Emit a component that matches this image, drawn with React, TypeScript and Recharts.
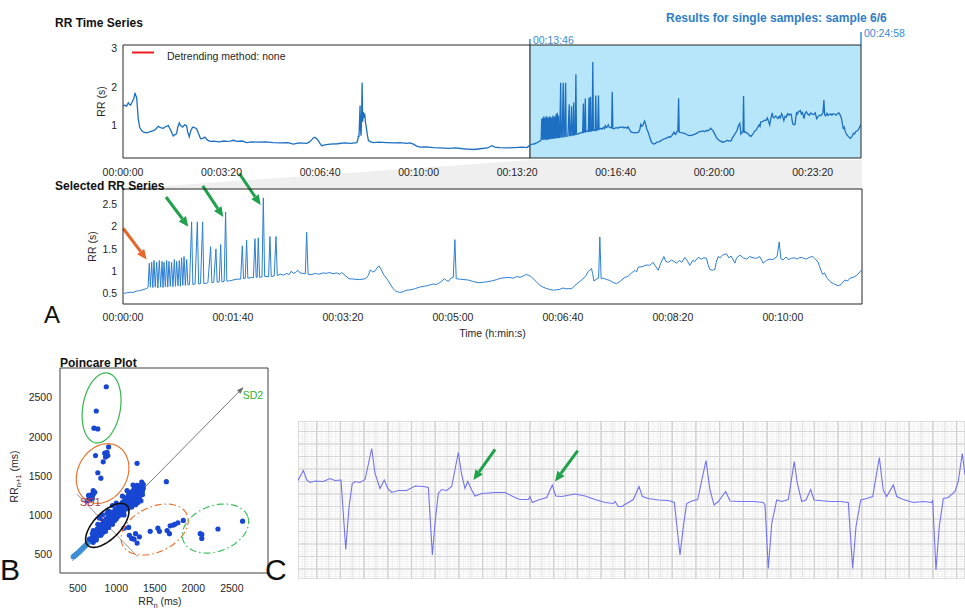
import React from 'react';
import {
  LineChart,
  Line,
  ScatterChart,
  Scatter,
  XAxis,
  YAxis,
  CartesianGrid,
  ReferenceArea,
  ReferenceLine,
  ReferenceDot,
  Legend,
  Label,
} from 'recharts';

type Pt = [number, number];

const FONT = '"Liberation Sans", Arial, Helvetica, sans-serif';
const INK = '#262626';
const TICK = { fontSize: 10.5, fill: INK, fontFamily: FONT };
const GREEN_ARROW = '#1fa24b';
const ORANGE_ARROW = '#e8652c';

// ---------------- RR tachogram ----------------
const selectionStart = 826; // 00:13:46
const recordEnd = 1498; // 00:24:58
const selectionLength = recordEnd - selectionStart;

// RR intervals before the analysed window: [time (s), RR (s)]
const rrEarly: Pt[] = [
  [0, 1.52], [4, 1.53], [7, 1.5], [10.8, 1.59], [13, 1.55], [15.5, 1.53], [19, 1.62], [22, 1.7],
  [24.4, 1.85], [26, 1.78], [27.7, 1.73], [29, 1.5], [31, 1.17], [34, 0.95], [37.8, 0.87], [42, 0.83],
  [48, 0.81], [54, 0.84], [61.5, 0.87], [66, 0.9], [71.6, 0.98], [76, 0.95], [81.8, 0.93], [86, 0.97],
  [92, 1.0], [96, 0.9], [102, 0.73], [105, 0.76], [108.8, 0.79], [111, 0.95], [114.2, 1.07], [117, 1.0],
  [121, 0.96], [125, 1.02], [129, 1.0], [131, 0.85], [134.5, 0.71], [137, 0.85], [141.2, 0.96], [145, 0.95],
  [149.4, 0.92], [153, 0.8], [157.5, 0.66], [162, 0.67], [166.3, 0.7], [171, 0.63], [176.4, 0.59], [185, 0.6],
  [195, 0.58], [205, 0.6], [210.3, 0.59], [218, 0.6], [223.8, 0.62], [232, 0.59], [242, 0.6], [250.9, 0.56],
  [262, 0.58], [275, 0.57], [290, 0.58], [305, 0.56], [320, 0.55], [335, 0.56], [345.7, 0.52], [358, 0.55],
  [372.8, 0.54], [378, 0.57], [383, 0.63], [386, 0.68], [389.7, 0.7], [393, 0.66], [396.5, 0.61], [400, 0.53],
  [403.3, 0.48], [410, 0.5], [420.2, 0.52], [435, 0.53], [450, 0.55], [462, 0.54], [474.4, 0.56], [476.5, 0.62],
  [477.8, 0.74], [479, 0.7], [481.2, 1.52], [482.2, 0.9], [483.2, 0.74], [484.3, 1.2], [485.3, 2.12], [486.5, 1.1],
  [488, 1.35], [489.5, 1.2], [490.7, 1.31], [492, 1.1], [493.4, 1.0], [495.5, 0.8], [498.1, 0.61], [503, 0.58],
  [508.3, 0.56], [520, 0.57], [535, 0.56], [550, 0.55], [562, 0.56], [576, 0.54], [582, 0.55], [589.6, 0.52],
  [596, 0.47], [603.1, 0.44], [615, 0.45], [630, 0.43], [643.7, 0.42], [660, 0.41], [675, 0.42], [690, 0.4],
  [700, 0.39], [711.4, 0.38], [725, 0.4], [740, 0.42], [748.6, 0.48], [755, 0.44], [765, 0.43], [779, 0.42],
  [795, 0.43], [810, 0.44], [820, 0.43],
];

// RR intervals of the selected window: [time from window start (s), RR (s)]
const rrSelected: Pt[] = [
  [0.9, 0.5], [3, 0.51], [6.4, 0.525], [9, 0.52], [12.4, 0.55], [15, 0.56], [18, 0.58], [21.5, 0.61], [22.8, 0.63],
  [23.9, 1.18], [24.9, 0.64], [26.1, 1.2], [27.1, 0.63], [28.2, 1.24], [29.3, 0.64], [30.6, 1.2], [31.7, 0.62],
  [33.0, 1.24], [34.2, 0.64], [35.5, 1.22], [36.4, 0.63], [37.3, 1.2], [38.5, 0.65], [39.7, 1.24], [40.7, 0.64],
  [41.8, 1.22], [43, 0.66], [44.2, 1.2], [45.4, 0.65], [46.7, 1.26], [47.7, 0.66], [48.8, 1.22], [50, 0.67],
  [51.2, 1.24], [52.2, 0.66], [53.3, 1.3], [54.4, 0.68], [55.5, 1.33], [56.7, 0.68], [57.9, 1.26], [59, 0.69],
  [60.5, 0.7], [62.4, 2.11], [63.5, 0.7], [65.5, 0.71], [67.6, 2.11], [68.8, 0.71], [70.5, 0.72], [72.4, 2.11],
  [73.5, 0.72], [76, 0.73], [77.2, 0.74], [79.7, 1.55], [80.8, 0.74], [82.5, 0.75], [84.5, 1.5], [85.6, 0.75],
  [87.5, 0.76], [88.8, 1.6], [89.9, 0.76], [92, 0.77], [93.3, 2.33], [94.4, 0.78], [97, 0.78], [100, 0.8],
  [104, 0.82], [107, 0.82], [108.5, 1.57], [109.6, 0.83], [111.2, 0.84], [112.4, 1.7], [113.5, 0.84], [117, 0.86],
  [118.6, 0.85], [120, 1.73], [121.1, 0.86], [122, 0.86], [123, 1.75], [124.2, 0.86], [126.4, 0.87], [127.6, 2.65],
  [128.8, 0.88], [131, 0.88], [132.4, 0.87], [133.6, 1.78], [134.8, 0.88], [137.5, 0.89], [139.1, 1.78], [140.3, 0.9],
  [143, 0.93], [146, 0.91], [149, 0.95], [151, 0.92], [153, 1.0], [155, 0.95], [157, 0.97], [159, 1.02],
  [161, 0.96], [163.6, 0.95], [165.8, 0.94], [167, 1.88], [168.3, 0.93], [171, 0.92], [175, 0.95], [178, 0.93],
  [182, 0.96], [185, 0.95], [188, 0.97], [191, 0.94], [194, 0.96], [197, 0.93], [199, 0.97], [202, 0.9],
  [205.5, 0.83], [210, 0.82], [215, 0.81], [220.6, 0.83], [223, 0.9], [225, 1.03], [227, 0.98], [229, 1.0],
  [231, 1.07], [232.8, 1.12], [234.5, 1.05], [237, 0.92], [240.8, 0.8], [245.4, 0.61], [248, 0.55], [251.5, 0.52],
  [254, 0.53], [257.6, 0.57], [262, 0.58], [266, 0.61], [269.7, 0.64], [274, 0.66], [278, 0.68], [281.8, 0.71],
  [285, 0.7], [288, 0.74], [290, 0.78], [292.4, 0.83], [294, 0.79], [296, 0.77], [298, 0.84], [300.3, 0.86],
  [301.8, 1.71], [303, 0.83], [306, 0.82], [310, 0.81], [313.9, 0.8], [318, 0.77], [323, 0.74], [328, 0.75],
  [331, 0.76], [335.2, 0.78], [340, 0.81], [343, 0.84], [347.3, 0.85], [351, 0.86], [354.8, 0.84], [358, 0.88],
  [361, 0.86], [364, 0.89], [366.9, 0.93], [369, 0.9], [371, 0.88], [373, 0.83], [376, 0.76], [379, 0.68],
  [382, 0.64], [385, 0.61], [388, 0.59], [391.2, 0.57], [394, 0.58], [397, 0.59], [400.3, 0.62], [403, 0.6],
  [405, 0.61], [407.9, 0.6], [411, 0.68], [415.5, 0.77], [418, 0.82], [421, 0.9], [423, 0.99], [426, 1.06],
  [427, 0.95], [428.2, 0.78], [431.2, 0.83], [432.5, 0.84], [433.6, 1.77], [434.8, 0.83], [437, 0.84], [440, 0.81],
  [442.7, 0.79], [446, 0.74], [448.8, 0.72], [452, 0.77], [456.4, 0.86], [459, 0.88], [462, 0.95], [465.4, 1.02],
  [467, 0.98], [468.5, 1.09], [472, 1.1], [476, 1.14], [479, 1.13], [482.1, 1.2], [484, 1.12], [486.7, 1.02],
  [489, 1.18], [491.8, 1.33], [493.5, 1.22], [495.8, 1.2], [499, 1.25], [503.3, 1.18], [506, 1.24], [508, 1.2],
  [510.9, 1.31], [513, 1.24], [515.4, 1.13], [518, 1.24], [520, 1.22], [523, 1.31], [526, 1.27], [528, 1.3],
  [530.6, 1.29], [532, 1.15], [533.6, 1.04], [536, 1.02], [538.2, 1.04], [539.5, 1.2], [541.2, 1.33], [543, 1.3],
  [545, 1.36], [548.8, 1.39], [551, 1.3], [553, 1.34], [556.4, 1.18], [558, 1.3], [561, 1.36], [564, 1.3],
  [567, 1.27], [570, 1.33], [573, 1.3], [576.1, 1.29], [579, 1.33], [582.1, 1.18], [585, 1.24], [588.2, 1.27],
  [591, 1.26], [594.8, 1.33], [596.7, 1.66], [598.2, 1.28], [600.3, 1.25], [603, 1.32], [605, 1.26], [607.9, 1.29],
  [611, 1.3], [613, 1.27], [615.5, 1.31], [618, 1.3], [621.5, 1.27], [624, 1.31], [627, 1.33], [629, 1.29],
  [632.1, 1.2], [633.5, 1.1], [636, 0.93], [638, 0.96], [640, 0.85], [642.7, 0.77], [646, 0.72], [650.3, 0.67],
  [653, 0.7], [656.4, 0.8], [659, 0.78], [661, 0.84], [664, 0.86], [667, 0.9], [671.5, 1.02],
];

const overviewTicks = [0, 200, 400, 600, 800, 1000, 1200, 1400];
const overviewRRTicks = [1, 2, 3];
const detailTicks = [0, 100, 200, 300, 400, 500, 600];
const detailRRTicks = [0.5, 1, 1.5, 2, 2.5];

const overviewData = [
  ...rrEarly,
  ...rrSelected.map(([t, rr]): Pt => [t + selectionStart, rr]),
].map(([t, rr]) => ({ t, rr }));
const detailData = rrSelected.map(([t, rr]) => ({ t, rr }));

const selectionMarkers = [
  { t: selectionStart, label: '00:13:46', rise: 6 },
  { t: recordEnd, label: '00:24:58', rise: 13 },
];

// Arrows on the detail plot: tail and tip in (time s, RR s)
const detailArrows = [
  { from: [0.3, 1.96], to: [21.5, 1.26], color: ORANGE_ARROW },
  { from: [39.1, 2.67], to: [59.4, 2.0], color: GREEN_ARROW },
  { from: [72.5, 2.92], to: [91.2, 2.22], color: GREEN_ARROW },
  { from: [105.7, 3.2], to: [125.2, 2.49], color: GREEN_ARROW },
];

// ---------------- Poincare plot ----------------
const poincareTicks = [500, 1000, 1500, 2000, 2500];

const poincareCore: Pt[] = [
  [440, 465], [450, 470], [455, 480], [462, 478], [470, 488], [478, 492], [485, 500], [492, 505], [500, 512],
  [508, 518], [515, 525], [522, 532], [530, 540], [538, 548], [545, 555], [552, 560], [560, 568], [568, 578],
  [577, 585], [585, 595], [594, 602], [602, 612], [612, 620], [620, 632], [630, 640], [640, 652], [650, 662],
];

const poincareCluster: Pt[] = [
  [650, 690], [680, 700], [690, 670], [700, 720], [710, 740], [720, 700], [730, 760], [740, 750], [750, 780],
  [760, 740], [770, 800], [780, 790], [790, 820], [800, 810], [810, 840], [820, 800], [830, 860], [840, 850],
  [850, 880], [860, 860], [870, 900], [880, 880], [890, 920], [900, 900], [910, 940], [920, 930], [930, 960],
  [940, 950], [950, 980], [960, 970], [970, 1000], [980, 990], [990, 1020], [1000, 1010], [1010, 1040],
  [1020, 1030], [1030, 1060], [1040, 1050], [1050, 1080], [1060, 1070], [1070, 1100], [1080, 1090],
  [1090, 1120], [1100, 1110], [1110, 1140], [1120, 1160], [1130, 1150], [1140, 1180], [1150, 1170],
  [1160, 1200], [1170, 1190], [1180, 1220], [1190, 1210], [1200, 1240], [1210, 1230], [1220, 1260],
  [1230, 1250], [1240, 1280], [1250, 1270], [1260, 1300], [1270, 1290], [1280, 1320], [1290, 1310],
  [1300, 1340], [1310, 1360], [1320, 1300], [1330, 1380], [1270, 1380], [1250, 1350], [1230, 1330],
  [1210, 1300], [1190, 1290], [1170, 1260], [1150, 1240], [1130, 1210], [1160, 1250], [1300, 1200],
  [1320, 1180], [1280, 1160], [1260, 1150], [1240, 1140], [1220, 1180], [1200, 1160], [1180, 1130],
  [1290, 1240], [1310, 1250], [1330, 1290], [1350, 1340], [1340, 1260], [1300, 1290], [1270, 1220],
  [1250, 1200], [1230, 1200], [1210, 1180], [780, 960], [820, 1000], [760, 880], [700, 800], [900, 1050],
  [950, 1120], [1000, 1150], [880, 1020], [1050, 1000], [1000, 950], [950, 880], [900, 840], [860, 790],
  [800, 740], [740, 680], [1100, 1000], [1150, 1080], [1200, 1100], [1250, 1130], [1280, 1250],
  [1080, 1240], [1140, 1310], [1218, 1383],
  [690, 760], [720, 780], [750, 820], [780, 850], [810, 880], [840, 920], [870, 950], [900, 980], [930, 1010],
  [960, 1040], [990, 1070], [1020, 1100], [1050, 1130], [1080, 1160], [1110, 1190], [700, 650], [740, 700],
  [780, 740], [820, 770], [860, 820], [900, 860], [940, 900], [980, 930], [1020, 980], [1060, 1010],
  [1100, 1050], [1140, 1100], [1180, 1160], [1220, 1220], [1260, 1240], [1300, 1260], [1320, 1340],
  [1350, 1390], [1330, 1420], [1290, 1370], [1240, 1300], [1190, 1260], [1150, 1200], [1110, 1160],
  [1340, 1310],
];

const poincareEctopic: Pt[] = [
  [870, 2640], [740, 2330], [710, 2110], [760, 2100],
  [900, 1870], [730, 1760], [850, 1790], [880, 1800], [890, 1760], [860, 1740], [830, 1680], [760, 1540],
  [800, 1470], [700, 1310], [720, 1290], [680, 1260], [650, 1220], [690, 1210], [660, 1190], [620, 1180],
  [700, 1260], [640, 1250], [1270, 1660], [1650, 1425],
  [1100, 830], [1160, 840], [1170, 740], [1200, 700], [1230, 690], [1270, 640], [1300, 720], [1250, 760],
  [1440, 790], [1540, 830], [1560, 790], [1660, 800], [1700, 860], [1740, 870], [1760, 880], [1800, 900],
  [1870, 930], [1690, 760],
  [2090, 760], [2110, 750], [2110, 700], [2320, 820], [2640, 920],
];

// Group outlines: centre, semi-axes (ms) and tilt (deg)
const poincareEllipses = [
  { cx: 883, cy: 866, a: 360, b: 170, angle: 45, color: '#111111', width: 1.6, dash: undefined },
  { cx: 822, cy: 1530, a: 400, b: 320, angle: 60, color: '#e8742f', width: 1.2, dash: undefined },
  { cx: 809, cy: 2369, a: 453, b: 244, angle: 80, color: '#36b54f', width: 1.2, dash: undefined },
  { cx: 1498, cy: 813, a: 462, b: 288, angle: 25, color: '#e8742f', width: 1.2, dash: '7 3 1.5 3' },
  { cx: 2288, cy: 826, a: 446, b: 292, angle: 20, color: '#3cc05c', width: 1.2, dash: '7 3 1.5 3' },
];

const sdCentre: Pt = [883, 866];
const sd2Axis: Pt[] = [[430, 413], [2654, 2637]];
const sd1Axis: Pt[] = [[487, 1268], [1278, 465]];
const sdMinorStart: Pt = [620, 610];
const sd1End: Pt = [765, 985];
const sd2End: Pt = [1130, 1110];

// ---------------- ECG strip ----------------
const ecgRange = { t: [0.042, 5.671] as Pt, mv: [-1.95, 1.21] as Pt };

// [time (s), amplitude (mV)]
const ecgTrace: Pt[] = [
  [0.042, 0.02], [0.087, 0.22], [0.116, 0.03], [0.143, -0.02], [0.186, 0.01], [0.256, 0.0], [0.312, 0.06],
  [0.354, 0.02], [0.405, 0.03], [0.445, -1.36], [0.473, -0.5], [0.5, -0.04], [0.523, 0.0], [0.565, -0.02],
  [0.608, 0.04], [0.664, 0.66], [0.692, 0.16], [0.734, -0.14], [0.77, 0.03], [0.799, -0.14], [0.833, -0.22],
  [0.889, -0.18], [0.959, -0.18], [1.03, -0.09], [1.1, -0.1], [1.142, -0.12], [1.176, -1.47], [1.198, -0.84],
  [1.226, -0.24], [1.255, -0.16], [1.297, -0.18], [1.339, -0.1], [1.395, 0.58], [1.424, 0.13], [1.451, -0.14],
  [1.474, 0.0], [1.508, -0.17], [1.536, -0.29], [1.592, -0.24], [1.705, -0.22], [1.789, -0.22], [1.873, -0.32],
  [1.916, -0.36], [1.986, -0.36], [2.0, -0.3], [2.019, -0.42], [2.07, -0.37], [2.141, -0.32], [2.188, -0.07],
  [2.217, -0.29], [2.268, -0.3], [2.38, -0.25], [2.464, -0.29], [2.549, -0.36], [2.633, -0.42], [2.703, -0.44],
  [2.717, -0.4], [2.745, -0.5], [2.774, -0.5], [2.83, -0.42], [2.872, -0.36], [2.92, -0.1], [2.948, -0.3],
  [2.998, -0.34], [3.083, -0.37], [3.167, -0.38], [3.218, -0.42], [3.266, -1.47], [3.294, -0.9], [3.322, -0.44],
  [3.365, -0.39], [3.415, -0.36], [3.485, 0.42], [3.519, -0.17], [3.553, -0.47], [3.589, -0.4], [3.651, -0.2],
  [3.688, -0.39], [3.772, -0.4], [3.884, -0.4], [3.969, -0.42], [3.983, -0.47], [4.011, -1.74], [4.04, -0.84],
  [4.082, -0.37], [4.124, -0.4], [4.18, -0.36], [4.23, 0.4], [4.256, -0.04], [4.293, -0.4], [4.329, -0.37],
  [4.369, -0.16], [4.397, -0.37], [4.447, -0.38], [4.532, -0.4], [4.616, -0.4], [4.686, -0.42], [4.723, -1.74],
  [4.751, -0.9], [4.791, -0.37], [4.841, -0.34], [4.892, -0.3], [4.948, 0.48], [4.981, -0.17], [5.01, -0.3],
  [5.066, -0.07], [5.095, -0.3], [5.15, -0.36], [5.235, -0.42], [5.319, -0.4], [5.39, -0.42], [5.398, -0.37],
  [5.426, -1.77], [5.454, -0.9], [5.488, -0.34], [5.53, -0.32], [5.586, -0.2], [5.614, 0.0], [5.648, 0.56],
  [5.671, 0.13],
];

const ecgArrows = [
  { from: [1.705, 0.644], to: [1.522, 0.03] },
  { from: [2.403, 0.616], to: [2.211, 0.0] },
];

// ---------------- helpers ----------------
const hms = (s: number) => {
  const h = Math.floor(s / 3600);
  const m = Math.floor((s % 3600) / 60);
  const sec = Math.round(s % 60);
  return [h, m, sec].map((n) => String(n).padStart(2, '0')).join(':');
};

function steps(from: number, to: number, step: number): number[] {
  const out: number[] = [];
  for (let k = Math.ceil(from / step - 1e-9); k * step <= to + 1e-9; k++) out.push(+(k * step).toFixed(4));
  return out;
}

const toXY = (pts: Pt[]) => pts.map(([x, y]) => ({ x, y }));

function ellipsePoints(e: { cx: number; cy: number; a: number; b: number; angle: number }) {
  const rad = (e.angle * Math.PI) / 180;
  const ca = Math.cos(rad);
  const sa = Math.sin(rad);
  const pts: { x: number; y: number }[] = [];
  for (let i = 0; i <= 90; i++) {
    const th = (i / 90) * 2 * Math.PI;
    const u = e.a * Math.cos(th);
    const v = e.b * Math.sin(th);
    pts.push({ x: e.cx + u * ca - v * sa, y: e.cy + u * sa + v * ca });
  }
  return pts;
}

const arrowShape = (color: string, width: number, head: number, headWidth: number) => (p: any) => {
  const x1 = Number(p.x1), y1 = Number(p.y1), x2 = Number(p.x2), y2 = Number(p.y2);
  const ang = Math.atan2(y2 - y1, x2 - x1);
  const bx = x2 - head * Math.cos(ang);
  const by = y2 - head * Math.sin(ang);
  const nx = (-Math.sin(ang) * headWidth) / 2;
  const ny = (Math.cos(ang) * headWidth) / 2;
  return (
    <g>
      <line x1={x1} y1={y1} x2={bx} y2={by} stroke={color} strokeWidth={width} />
      <polygon points={`${x2},${y2} ${bx + nx},${by + ny} ${bx - nx},${by - ny}`} fill={color} />
    </g>
  );
};

const markerShape = (label: string, rise: number) => (p: any) => {
  const x = Number(p.x1);
  const top = Math.min(Number(p.y1), Number(p.y2));
  return (
    <g>
      <line x1={x} x2={x} y1={top - rise} y2={top} stroke="#2b86d3" strokeWidth={1.4} />
      <text x={x + 3} y={top - rise + 5} fontSize={10.5} fontFamily={FONT} fill="#3a8ad2">
        {label}
      </text>
    </g>
  );
};

const zoomBand = (frac: number, rise: number) => (p: any) => {
  const x = Number(p.x);
  const y = Number(p.y);
  const w = Number(p.width);
  return (
    <polygon
      points={`${x},${y} ${x + w},${y} ${x + w},${y - rise} ${x + w * frac},${y - rise}`}
      fill="#efefef"
    />
  );
};

const rotatedLabel = (text: string, inset: number) => (props: any) => {
  const vb = props.viewBox;
  const x = vb.x + vb.width - inset;
  const y = vb.y + vb.height / 2;
  return (
    <text x={x} y={y} transform={`rotate(-90 ${x} ${y})`} textAnchor="middle" fontSize={10.5} fontFamily={FONT} fill={INK}>
      {text}
    </text>
  );
};

const frameAxes = (
  id: string,
  xKey: string,
  yKey: string,
  xDomain: Pt,
  yDomain: Pt,
  xTicks: number[],
  yTicks: number[],
  len: number,
  stroke: string,
) => [
  <XAxis key={`${id}-top`} xAxisId={`${id}-top`} dataKey={xKey} orientation="top" mirror type="number" domain={xDomain}
    allowDataOverflow ticks={xTicks} interval={0} tick={false} tickSize={len} axisLine={{ stroke }} tickLine={{ stroke }} />,
  <XAxis key={`${id}-bin`} xAxisId={`${id}-bin`} dataKey={xKey} orientation="bottom" mirror type="number" domain={xDomain}
    allowDataOverflow ticks={xTicks} interval={0} tick={false} tickSize={len} axisLine={false} tickLine={{ stroke }} />,
  <YAxis key={`${id}-right`} yAxisId={`${id}-right`} dataKey={yKey} orientation="right" mirror type="number" domain={yDomain}
    allowDataOverflow ticks={yTicks} interval={0} tick={false} tickSize={len} axisLine={{ stroke }} tickLine={{ stroke }} />,
  <YAxis key={`${id}-lin`} yAxisId={`${id}-lin`} dataKey={yKey} orientation="left" mirror type="number" domain={yDomain}
    allowDataOverflow ticks={yTicks} interval={0} tick={false} tickSize={len} axisLine={false} tickLine={{ stroke }} />,
];

const dot = (fill: string, r: number) => (p: any) => <circle cx={p.cx} cy={p.cy} r={r} fill={fill} />;
const noDot = () => <g />;

// ---------------- panels ----------------
const overviewDomain: Pt = [0, recordEnd];
const overviewRR: Pt = [0.16, 3.09];
const detailDomain: Pt = [0, selectionLength];
const detailRR: Pt = [0.26, 2.85];
const poincareX: Pt = [269, 2970];
const poincareY: Pt = [257, 2880];

function OverviewChart() {
  return (
    <LineChart width={965} height={180} data={overviewData} margin={{ top: 45, right: 104, bottom: 0, left: 0 }}>
      <XAxis xAxisId="t" dataKey="t" type="number" domain={overviewDomain} allowDataOverflow ticks={overviewTicks}
        interval={0} tickFormatter={hms} height={22} tickSize={0} tickMargin={11} tickLine={false}
        axisLine={{ stroke: INK }} tick={TICK} />
      <YAxis yAxisId="rr" type="number" domain={overviewRR} allowDataOverflow ticks={overviewRRTicks} interval={0}
        width={123} tickSize={0} tickMargin={6} tickLine={false} axisLine={{ stroke: INK }} tick={TICK}>
        <Label content={rotatedLabel('RR (s)', 18)} />
      </YAxis>
      {frameAxes('ov', 't', 'rr', overviewDomain, overviewRR, overviewTicks, overviewRRTicks, 5, INK)}
      <ReferenceArea xAxisId="t" yAxisId="rr" x1={selectionStart} x2={recordEnd} fill="#b7e6fa" fillOpacity={1}
        stroke="none" />
      <ReferenceLine xAxisId="t" yAxisId="rr" x={selectionStart} stroke="#2a2a2a" strokeWidth={1.2} />
      {selectionMarkers.map((m) => (
        <ReferenceLine key={m.label} xAxisId="t" yAxisId="rr" x={m.t} ifOverflow="visible"
          shape={markerShape(m.label, m.rise)} />
      ))}
      <Line xAxisId="t" yAxisId="rr" dataKey="rr" type="linear" dot={false} stroke="#1d6fc2" strokeWidth={1.3}
        isAnimationActive={false} />
      <Legend
        layout="horizontal"
        verticalAlign="middle"
        align="center"
        wrapperStyle={{ position: 'absolute', left: 131, top: 50, width: 200, height: 14 }}
        content={() => (
          <div style={{ position: 'relative', width: 200, height: 14, fontFamily: FONT, fontSize: 10.5, color: INK }}>
            <svg width={24} height={4} style={{ position: 'absolute', left: 0, top: 1 }}>
              <line x1={1} x2={23} y1={1.5} y2={1.5} stroke="#ee1c1c" strokeWidth={2} />
            </svg>
            <span style={{ position: 'absolute', left: 36, top: 0, lineHeight: '12px', whiteSpace: 'nowrap' }}>
              Detrending method: none
            </span>
          </div>
        )}
      />
    </LineChart>
  );
}

function DetailChart() {
  return (
    <LineChart width={965} height={180} data={detailData} margin={{ top: 30, right: 103, bottom: 0, left: 0 }}>
      <XAxis xAxisId="t" dataKey="t" type="number" domain={detailDomain} allowDataOverflow ticks={detailTicks}
        interval={0} tickFormatter={hms} height={35} tickSize={0} tickMargin={10} tickLine={false}
        axisLine={{ stroke: INK }} tick={TICK}>
        <Label value="Time (h:min:s)" position="insideBottom" offset={2}
          style={{ fontSize: 10.5, fill: INK, fontFamily: FONT }} />
      </XAxis>
      <YAxis yAxisId="rr" type="number" domain={detailRR} allowDataOverflow ticks={detailRRTicks} interval={0}
        width={123} tickSize={0} tickMargin={6} tickLine={false} axisLine={{ stroke: INK }} tick={TICK}>
        <Label content={rotatedLabel('RR (s)', 27)} />
      </YAxis>
      {frameAxes('dt', 't', 'rr', detailDomain, detailRR, detailTicks, detailRRTicks, 5, INK)}
      <ReferenceArea xAxisId="t" yAxisId="rr" x1={0} x2={selectionLength} ifOverflow="visible"
        shape={zoomBand(selectionStart / recordEnd, 29)} />
      <Line xAxisId="t" yAxisId="rr" dataKey="rr" type="linear" dot={false} stroke="#2b7fd3" strokeWidth={1}
        isAnimationActive={false} />
      {detailArrows.map((a, i) => (
        <ReferenceLine key={`da${i}`} xAxisId="t" yAxisId="rr" ifOverflow="visible"
          segment={[{ x: a.from[0], y: a.from[1] }, { x: a.to[0], y: a.to[1] }]}
          shape={arrowShape(a.color, 3, 10, 9)} />
      ))}
    </LineChart>
  );
}

const poincareXLabel = (props: any) => {
  const vb = props.viewBox;
  const x = vb.x + vb.width / 2 - 4;
  return (
    <text x={x} y={vb.y + 32} textAnchor="middle" fontSize={10.5} fontFamily={FONT} fill={INK}>
      <tspan>RR</tspan>
      <tspan fontSize={7.5} dy={2.5}>n</tspan>
      <tspan dy={-2.5}> (ms)</tspan>
    </text>
  );
};

const poincareYLabel = (props: any) => {
  const vb = props.viewBox;
  const x = 18;
  const y = vb.y + vb.height / 2 + 6;
  return (
    <text x={x} y={y} transform={`rotate(-90 ${x} ${y})`} textAnchor="middle" fontSize={10.5} fontFamily={FONT} fill={INK}>
      <tspan>RR</tspan>
      <tspan fontSize={7.5} dy={2.5}>n+1</tspan>
      <tspan dy={-2.5}> (ms)</tspan>
    </text>
  );
};

const sdText = (text: string, color: string) => (p: any) => (
  <text x={p.cx} y={p.cy} fontSize={10.5} fontFamily={FONT} fill={color}>
    {text}
  </text>
);

function PoincareChart() {
  const seg = (a: Pt, b: Pt) => [{ x: a[0], y: a[1] }, { x: b[0], y: b[1] }];
  return (
    <ScatterChart width={290} height={259} margin={{ top: 18, right: 22, bottom: 0, left: 0 }}>
      <XAxis xAxisId="x" dataKey="x" type="number" domain={poincareX} allowDataOverflow ticks={poincareTicks}
        interval={0} height={36} tickSize={0} tickMargin={12} tickLine={false} axisLine={{ stroke: '#404040' }}
        tick={TICK}>
        <Label content={poincareXLabel} />
      </XAxis>
      <YAxis yAxisId="y" dataKey="y" type="number" domain={poincareY} allowDataOverflow ticks={poincareTicks}
        interval={0} width={60} tickSize={0} tickMargin={8} tickLine={false} axisLine={{ stroke: '#404040' }}
        tick={TICK}>
        <Label content={poincareYLabel} />
      </YAxis>
      {frameAxes('pc', 'x', 'y', poincareX, poincareY, poincareTicks, poincareTicks, 4, '#404040')}
      <Scatter xAxisId="x" yAxisId="y" data={toXY(poincareCore)} shape={dot('#3d8fd8', 2.6)} isAnimationActive={false} />
      <Scatter xAxisId="x" yAxisId="y" data={toXY(poincareCluster)} shape={dot('#1747d2', 2.6)} isAnimationActive={false} />
      <Scatter xAxisId="x" yAxisId="y" data={toXY(poincareEctopic)} shape={dot('#1747d2', 2.6)} isAnimationActive={false} />
      <ReferenceLine xAxisId="x" yAxisId="y" ifOverflow="visible" segment={seg(sd1Axis[0], sd1Axis[1])}
        stroke="#8a8a8a" strokeWidth={0.9} />
      <ReferenceLine xAxisId="x" yAxisId="y" ifOverflow="visible" segment={seg(sd2Axis[0], sd2Axis[1])}
        shape={arrowShape('#6a6a6a', 0.9, 7, 5)} />
      {poincareEllipses.map((e, i) => (
        <Scatter key={`el${i}`} xAxisId="x" yAxisId="y" data={ellipsePoints(e)} shape={noDot}
          line={{ stroke: e.color, strokeWidth: e.width, strokeDasharray: e.dash }} lineType="joint"
          isAnimationActive={false} />
      ))}
      <ReferenceLine xAxisId="x" yAxisId="y" ifOverflow="visible" segment={seg(sdMinorStart, sdCentre)}
        stroke="#111111" strokeWidth={1.5} />
      <ReferenceLine xAxisId="x" yAxisId="y" ifOverflow="visible" segment={seg(sdCentre, sd2End)}
        stroke="#1f9a2a" strokeWidth={3.5} />
      <ReferenceLine xAxisId="x" yAxisId="y" ifOverflow="visible" segment={seg(sdCentre, sd1End)}
        stroke="#a3161c" strokeWidth={3.5} />
      <ReferenceDot xAxisId="x" yAxisId="y" x={530} y={1114} r={0} ifOverflow="visible"
        shape={sdText('SD1', '#b23845')} />
      <ReferenceDot xAxisId="x" yAxisId="y" x={2641} y={2483} r={0} ifOverflow="visible"
        shape={sdText('SD2', '#2db52d')} />
    </ScatterChart>
  );
}

const ecgData = ecgTrace.map(([t, mv]) => ({ t, mv }));
const ecgFineT = steps(ecgRange.t[0], ecgRange.t[1], 0.04);
const ecgMidT = steps(ecgRange.t[0], ecgRange.t[1], 0.1);
const ecgMajorT = steps(ecgRange.t[0], ecgRange.t[1], 0.2);
const ecgFineV = steps(ecgRange.mv[0], ecgRange.mv[1], 0.05);
const ecgMidV = steps(ecgRange.mv[0], ecgRange.mv[1], 0.25);

function EcgChart() {
  const gx = (id: string, ticks: number[]) => (
    <XAxis key={id} xAxisId={id} dataKey="t" type="number" domain={ecgRange.t} allowDataOverflow ticks={ticks}
      interval={0} hide />
  );
  const gy = (id: string, ticks: number[]) => (
    <YAxis key={id} yAxisId={id} dataKey="mv" type="number" domain={ecgRange.mv} allowDataOverflow ticks={ticks}
      interval={0} hide />
  );
  return (
    <LineChart width={667} height={158} data={ecgData} margin={{ top: 0, right: 0, bottom: 0, left: 0 }}>
      <XAxis xAxisId="t" dataKey="t" type="number" domain={ecgRange.t} allowDataOverflow hide />
      <YAxis yAxisId="mv" type="number" domain={ecgRange.mv} allowDataOverflow hide />
      {gx('gfine', ecgFineT)}
      {gx('gmid', ecgMidT)}
      {gx('gmaj', ecgMajorT)}
      {gy('gfine', ecgFineV)}
      {gy('gmid', ecgMidV)}
      <CartesianGrid xAxisId="gfine" yAxisId="gfine" stroke="#efefef" strokeWidth={0.8} />
      <CartesianGrid xAxisId="gmid" yAxisId="gmid" stroke="#e0e0e0" strokeWidth={1} />
      <CartesianGrid xAxisId="gmaj" yAxisId="gmid" horizontal={false} stroke="#d0d0d0" strokeWidth={1.2} />
      <CartesianGrid xAxisId="gmaj" yAxisId="gmid" vertical={false} stroke="#d4d4d4" strokeWidth={1} />
      <Line xAxisId="t" yAxisId="mv" dataKey="mv" type="linear" dot={false} stroke="#7373f2" strokeWidth={1.1}
        isAnimationActive={false} />
      {ecgArrows.map((a, i) => (
        <ReferenceLine key={`ea${i}`} xAxisId="t" yAxisId="mv" ifOverflow="visible"
          segment={[{ x: a.from[0], y: a.from[1] }, { x: a.to[0], y: a.to[1] }]}
          shape={arrowShape(GREEN_ARROW, 3, 10, 9)} />
      ))}
    </LineChart>
  );
}

export default function App() {
  const bold = { fontFamily: FONT, fontWeight: 700, fontSize: 12, fill: '#111' };
  return (
    <div style={{ position: 'relative', width: 965, height: 609, overflow: 'hidden', background: '#fff' }}>
      <style>{'body{margin:0}'}</style>
      <div style={{ position: 'absolute', left: 0, top: 159 }}>
        <DetailChart />
      </div>
      <div style={{ position: 'absolute', left: 0, top: 0 }}>
        <OverviewChart />
      </div>
      <div style={{ position: 'absolute', left: 0, top: 350 }}>
        <PoincareChart />
      </div>
      <div style={{ position: 'absolute', left: 298, top: 421 }}>
        <EcgChart />
      </div>
      <svg width={965} height={609} style={{ position: 'absolute', left: 0, top: 0, pointerEvents: 'none' }}>
        <text x={55} y={26.5} {...bold}>RR Time Series</text>
        <text x={666} y={22} {...bold} fill="#2f7ec7">Results for single samples: sample 6/6</text>
        <text x={55} y={189.5} {...bold}>Selected RR Series</text>
        <text x={60} y={366.5} {...bold}>Poincare Plot</text>
        <text x={44} y={323} fontFamily={FONT} fontSize={24} fill="#111">A</text>
        <text x={0} y={580} fontFamily={FONT} fontSize={30} fill="#111">B</text>
        <text x={265} y={580} fontFamily={FONT} fontSize={30} fill="#111">C</text>
      </svg>
    </div>
  );
}
